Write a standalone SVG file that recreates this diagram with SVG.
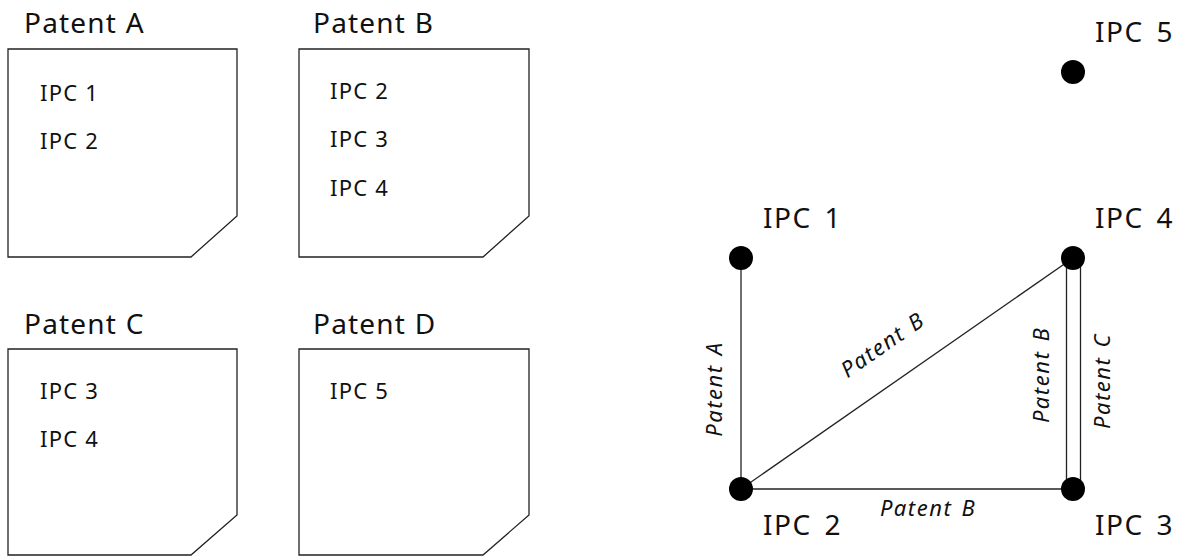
<svg xmlns="http://www.w3.org/2000/svg" width="1180" height="557" viewBox="0 0 1180 557">
<style>
.doc{fill:#fff;stroke:#222;stroke-width:1.3}
.title{font-family:"Noto Sans","DejaVu Sans",sans-serif;font-size:28px;letter-spacing:1.2px;fill:#111}
.item{font-family:"Noto Sans","DejaVu Sans",sans-serif;font-size:22px;letter-spacing:1.2px;fill:#111}
.lbl{font-family:"Noto Sans","DejaVu Sans",sans-serif;font-size:28px;letter-spacing:1.5px;word-spacing:4px;fill:#111}
.elbl{font-family:"Noto Sans","DejaVu Sans",sans-serif;font-size:22px;letter-spacing:1.5px;word-spacing:2px;font-style:italic;fill:#111}
.edge{stroke:#222;stroke-width:1.3;fill:none}
.dot{fill:#000}
</style>
<g id="patentA">
<text class="title" x="24" y="33">Patent A</text>
<path class="doc" d="M8,49 H237 V216 L191,257 H8 Z"/>
<text class="item" x="40" y="101">IPC 1</text>
<text class="item" x="40" y="149">IPC 2</text>
</g>
<g id="patentB">
<text class="title" x="313" y="33">Patent B</text>
<path class="doc" d="M299,49 H529 V216 L483,257 H299 Z"/>
<text class="item" x="330" y="99">IPC 2</text>
<text class="item" x="330" y="147">IPC 3</text>
<text class="item" x="330" y="196">IPC 4</text>
</g>
<g id="patentC">
<text class="title" x="24" y="334">Patent C</text>
<path class="doc" d="M8,349 H237 V515 L191,555 H8 Z"/>
<text class="item" x="40" y="399">IPC 3</text>
<text class="item" x="40" y="447">IPC 4</text>
</g>
<g id="patentD">
<text class="title" x="313" y="334">Patent D</text>
<path class="doc" d="M299,349 H529 V515 L483,555 H299 Z"/>
<text class="item" x="330" y="399">IPC 5</text>
</g>
<g id="connectors">
<line class="edge" x1="741" y1="258" x2="741" y2="489"/>
<line class="edge" x1="741" y1="489" x2="1073" y2="258"/>
<line class="edge" x1="741" y1="489" x2="1073" y2="489"/>
<rect class="edge" x="1066.5" y="258" width="14" height="231" fill="#fff"/>
<text class="elbl" transform="translate(722,389) rotate(-90)" text-anchor="middle">Patent A</text>
<text class="elbl" transform="translate(887,351) rotate(-34.8)" text-anchor="middle">Patent B</text>
<text class="elbl" transform="translate(1049,375) rotate(-90)" text-anchor="middle">Patent B</text>
<text class="elbl" transform="translate(1110,381) rotate(-90)" text-anchor="middle">Patent C</text>
<text class="elbl" x="928" y="516" text-anchor="middle">Patent B</text>
</g>
<g id="ipc1"><circle class="dot" cx="741" cy="258" r="12"/><text class="lbl" x="763" y="228">IPC 1</text></g>
<g id="ipc2"><circle class="dot" cx="741" cy="489" r="12"/><text class="lbl" x="763" y="535">IPC 2</text></g>
<g id="ipc3"><circle class="dot" cx="1073" cy="489" r="12"/><text class="lbl" x="1095" y="535">IPC 3</text></g>
<g id="ipc4"><circle class="dot" cx="1073" cy="258" r="12"/><text class="lbl" x="1095" y="228">IPC 4</text></g>
<g id="ipc5"><circle class="dot" cx="1073" cy="72" r="12"/><text class="lbl" x="1095" y="42">IPC 5</text></g>
</svg>
